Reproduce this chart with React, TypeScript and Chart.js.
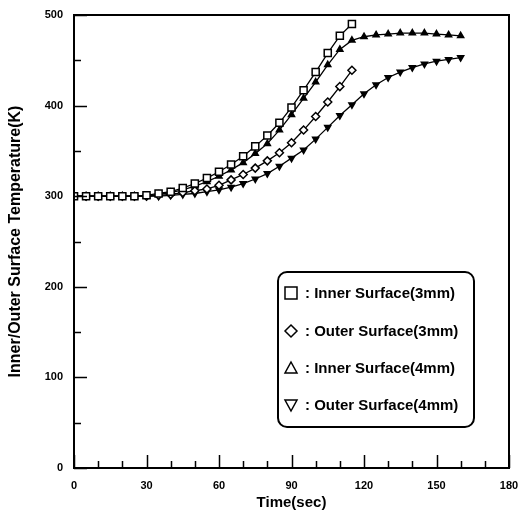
import React, { useEffect, useRef } from 'react';
import { Chart, registerables } from 'chart.js';

Chart.register(...registerables);

// ---- data ----
const times3mm = [0, 5, 10, 15, 20, 25, 30, 35, 40, 45, 50, 55, 60, 65, 70, 75, 80, 85, 90, 95, 100, 105, 110, 115];
const innerSurface3mm = [300, 300, 300, 300, 300, 300, 301, 303, 305, 309, 314, 320, 327, 335, 344, 355, 367, 381, 398, 417, 437, 458, 477, 490];
const outerSurface3mm = [300, 300, 300, 300, 300, 300, 300, 301, 302, 304, 306, 308, 312, 318, 324, 331, 339, 348, 359, 373, 388, 404, 421, 439];

const times4mm = [0, 5, 10, 15, 20, 25, 30, 35, 40, 45, 50, 55, 60, 65, 70, 75, 80, 85, 90, 95, 100, 105, 110, 115, 120, 125, 130, 135, 140, 145, 150, 155, 160];
const innerSurface4mm = [300, 300, 300, 300, 300, 300, 300, 302, 304, 307, 311, 316, 322, 329, 337, 347, 358, 373, 390, 408, 426, 445, 462, 472, 476, 478, 479, 480, 480, 480, 479, 478, 477];
const outerSurface4mm = [300, 300, 300, 300, 300, 300, 300, 300, 301, 302, 303, 305, 307, 310, 314, 319, 325, 333, 342, 351, 363, 376, 389, 401, 413, 423, 431, 437, 442, 446, 449, 451, 453];

const seriesLabels = [
  ': Inner Surface(3mm)',
  ': Outer Surface(3mm)',
  ': Inner Surface(4mm)',
  ': Outer Surface(4mm)',
];

const xMajorTicks = [0, 30, 60, 90, 120, 150, 180];
const xMinorTicks = [10, 20, 40, 50, 70, 80, 100, 110, 130, 140, 160, 170];
const yMajorTicks = [0, 100, 200, 300, 400, 500];
const yMinorTicks = [50, 150, 250, 350, 450];

const FONT = '"Liberation Sans", Arial, Helvetica, sans-serif';

const toXY = (xs: number[], ys: number[]) => xs.map((t, i) => ({ x: t, y: ys[i] }));

function drawShape(ctx: CanvasRenderingContext2D, kind: string, cx: number, cy: number, s: number) {
  ctx.beginPath();
  if (kind === 'square') {
    ctx.rect(cx - s / 2, cy - s / 2, s, s);
  } else if (kind === 'diamond') {
    ctx.moveTo(cx, cy - s / 2);
    ctx.lineTo(cx + s / 2, cy);
    ctx.lineTo(cx, cy + s / 2);
    ctx.lineTo(cx - s / 2, cy);
    ctx.closePath();
  } else if (kind === 'up') {
    ctx.moveTo(cx, cy - s / 2);
    ctx.lineTo(cx + s / 2, cy + s / 2 - 1);
    ctx.lineTo(cx - s / 2, cy + s / 2 - 1);
    ctx.closePath();
  } else {
    ctx.moveTo(cx, cy + s / 2);
    ctx.lineTo(cx + s / 2, cy - s / 2 + 1);
    ctx.lineTo(cx - s / 2, cy - s / 2 + 1);
    ctx.closePath();
  }
  ctx.stroke();
}

const framePlugin = {
  id: 'frame',
  afterDatasetsDraw(chart: any) {
    const { ctx, chartArea, scales } = chart;
    const { left, right, top, bottom } = chartArea;
    const x = scales.x;
    const y = scales.y;
    ctx.save();
    ctx.strokeStyle = '#000';
    ctx.lineWidth = 2;
    ctx.strokeRect(left, top, right - left, bottom - top);
    ctx.beginPath();
    xMajorTicks.forEach((v) => {
      const px = Math.round(x.getPixelForValue(v)) + 0.5;
      ctx.moveTo(px, bottom);
      ctx.lineTo(px, bottom - 13);
    });
    xMinorTicks.forEach((v) => {
      const px = Math.round(x.getPixelForValue(v)) + 0.5;
      ctx.moveTo(px, bottom);
      ctx.lineTo(px, bottom - 7);
    });
    yMajorTicks.forEach((v) => {
      const py = Math.round(y.getPixelForValue(v)) + 0.5;
      ctx.moveTo(left, py);
      ctx.lineTo(left + 13, py);
    });
    yMinorTicks.forEach((v) => {
      const py = Math.round(y.getPixelForValue(v)) + 0.5;
      ctx.moveTo(left, py);
      ctx.lineTo(left + 7, py);
    });
    ctx.lineWidth = 1.5;
    ctx.stroke();
    ctx.restore();
  },
};

const legendPlugin = {
  id: 'boxLegend',
  afterDraw(chart: any) {
    const { ctx } = chart;
    const bx = 278, by = 272, bw = 196, bh = 155, r = 9;
    ctx.save();
    ctx.strokeStyle = '#000';
    ctx.fillStyle = '#fff';
    ctx.lineWidth = 2;
    ctx.beginPath();
    ctx.moveTo(bx + r, by);
    ctx.lineTo(bx + bw - r, by);
    ctx.arcTo(bx + bw, by, bx + bw, by + r, r);
    ctx.lineTo(bx + bw, by + bh - r);
    ctx.arcTo(bx + bw, by + bh, bx + bw - r, by + bh, r);
    ctx.lineTo(bx + r, by + bh);
    ctx.arcTo(bx, by + bh, bx, by + bh - r, r);
    ctx.lineTo(bx, by + r);
    ctx.arcTo(bx, by, bx + r, by, r);
    ctx.closePath();
    ctx.fill();
    ctx.stroke();

    const shapes = ['square', 'diamond', 'up', 'down'];
    const rowY = [293, 331, 368, 405];
    ctx.lineWidth = 1.5;
    ctx.font = `bold 15px ${FONT}`;
    ctx.fillStyle = '#000';
    ctx.textBaseline = 'middle';
    ctx.textAlign = 'left';
    chart.data.datasets.forEach((ds: any, i: number) => {
      drawShape(ctx, shapes[i], 291, rowY[i], 12);
      ctx.fillText(ds.label, 305, rowY[i] + 1);
    });
    ctx.restore();
  },
};

export default function App() {
  const canvasRef = useRef<HTMLCanvasElement | null>(null);

  useEffect(() => {
    if (!canvasRef.current) return;
    const common = {
      borderColor: '#000',
      borderWidth: 1.3,
      pointBorderColor: '#000',
      pointBorderWidth: 1.5,
      tension: 0,
      fill: false,
    };
    const chart = new Chart(canvasRef.current, {
      type: 'line',
      data: {
        datasets: [
          {
            ...common,
            label: seriesLabels[0],
            data: toXY(times3mm, innerSurface3mm),
            pointStyle: 'rect',
            pointRadius: 5,
            pointBackgroundColor: '#fff',
          },
          {
            ...common,
            label: seriesLabels[1],
            data: toXY(times3mm, outerSurface3mm),
            pointStyle: 'rectRot',
            pointRadius: 4,
            pointBackgroundColor: '#fff',
          },
          {
            ...common,
            label: seriesLabels[2],
            data: toXY(times4mm, innerSurface4mm),
            pointStyle: 'triangle',
            pointRadius: 3.5,
            pointBackgroundColor: '#000',
          },
          {
            ...common,
            label: seriesLabels[3],
            data: toXY(times4mm, outerSurface4mm),
            pointStyle: 'triangle',
            pointRotation: 180,
            pointRadius: 3.5,
            pointBackgroundColor: '#000',
          } as any,
        ],
      },
      options: {
        responsive: false,
        animation: false,
        devicePixelRatio: 1,
        layout: { padding: { top: 15, right: 12, left: 0, bottom: 0 } },
        plugins: {
          legend: { display: false },
          tooltip: { enabled: false },
        },
        scales: {
          x: {
            type: 'linear',
            min: 0,
            max: 180,
            afterFit: (s: any) => {
              s.height = 49;
              s.paddingLeft = 0;
              s.paddingRight = 0;
            },
            grid: { display: false, drawTicks: false },
            border: { display: false },
            ticks: {
              stepSize: 30,
              padding: 11,
              color: '#000',
              font: { family: FONT, size: 11, weight: 'bold' },
              maxRotation: 0,
            },
            title: {
              display: true,
              text: 'Time(sec)',
              color: '#000',
              font: { family: FONT, size: 15, weight: 'bold' },
              padding: { top: 0, bottom: 5 },
            },
          },
          y: {
            type: 'linear',
            min: 0,
            max: 500,
            afterFit: (s: any) => {
              s.width = 74;
              s.paddingTop = 0;
              s.paddingBottom = 0;
            },
            grid: { display: false, drawTicks: false },
            border: { display: false },
            ticks: {
              stepSize: 100,
              padding: 11,
              color: '#000',
              font: { family: FONT, size: 11, weight: 'bold' },
            },
            title: {
              display: true,
              text: 'Inner/Outer Surface Temperature(K)',
              color: '#000',
              font: { family: FONT, size: 16, weight: 'bold' },
              padding: { top: 6, bottom: 0 },
            },
          },
        },
      } as any,
      plugins: [framePlugin, legendPlugin],
    });
    return () => chart.destroy();
  }, []);

  return (
    <div style={{ position: 'fixed', left: 0, top: 0, width: 521, height: 517, background: '#fff' }}>
      <canvas ref={canvasRef} width={521} height={517} style={{ display: 'block' }} />
    </div>
  );
}
